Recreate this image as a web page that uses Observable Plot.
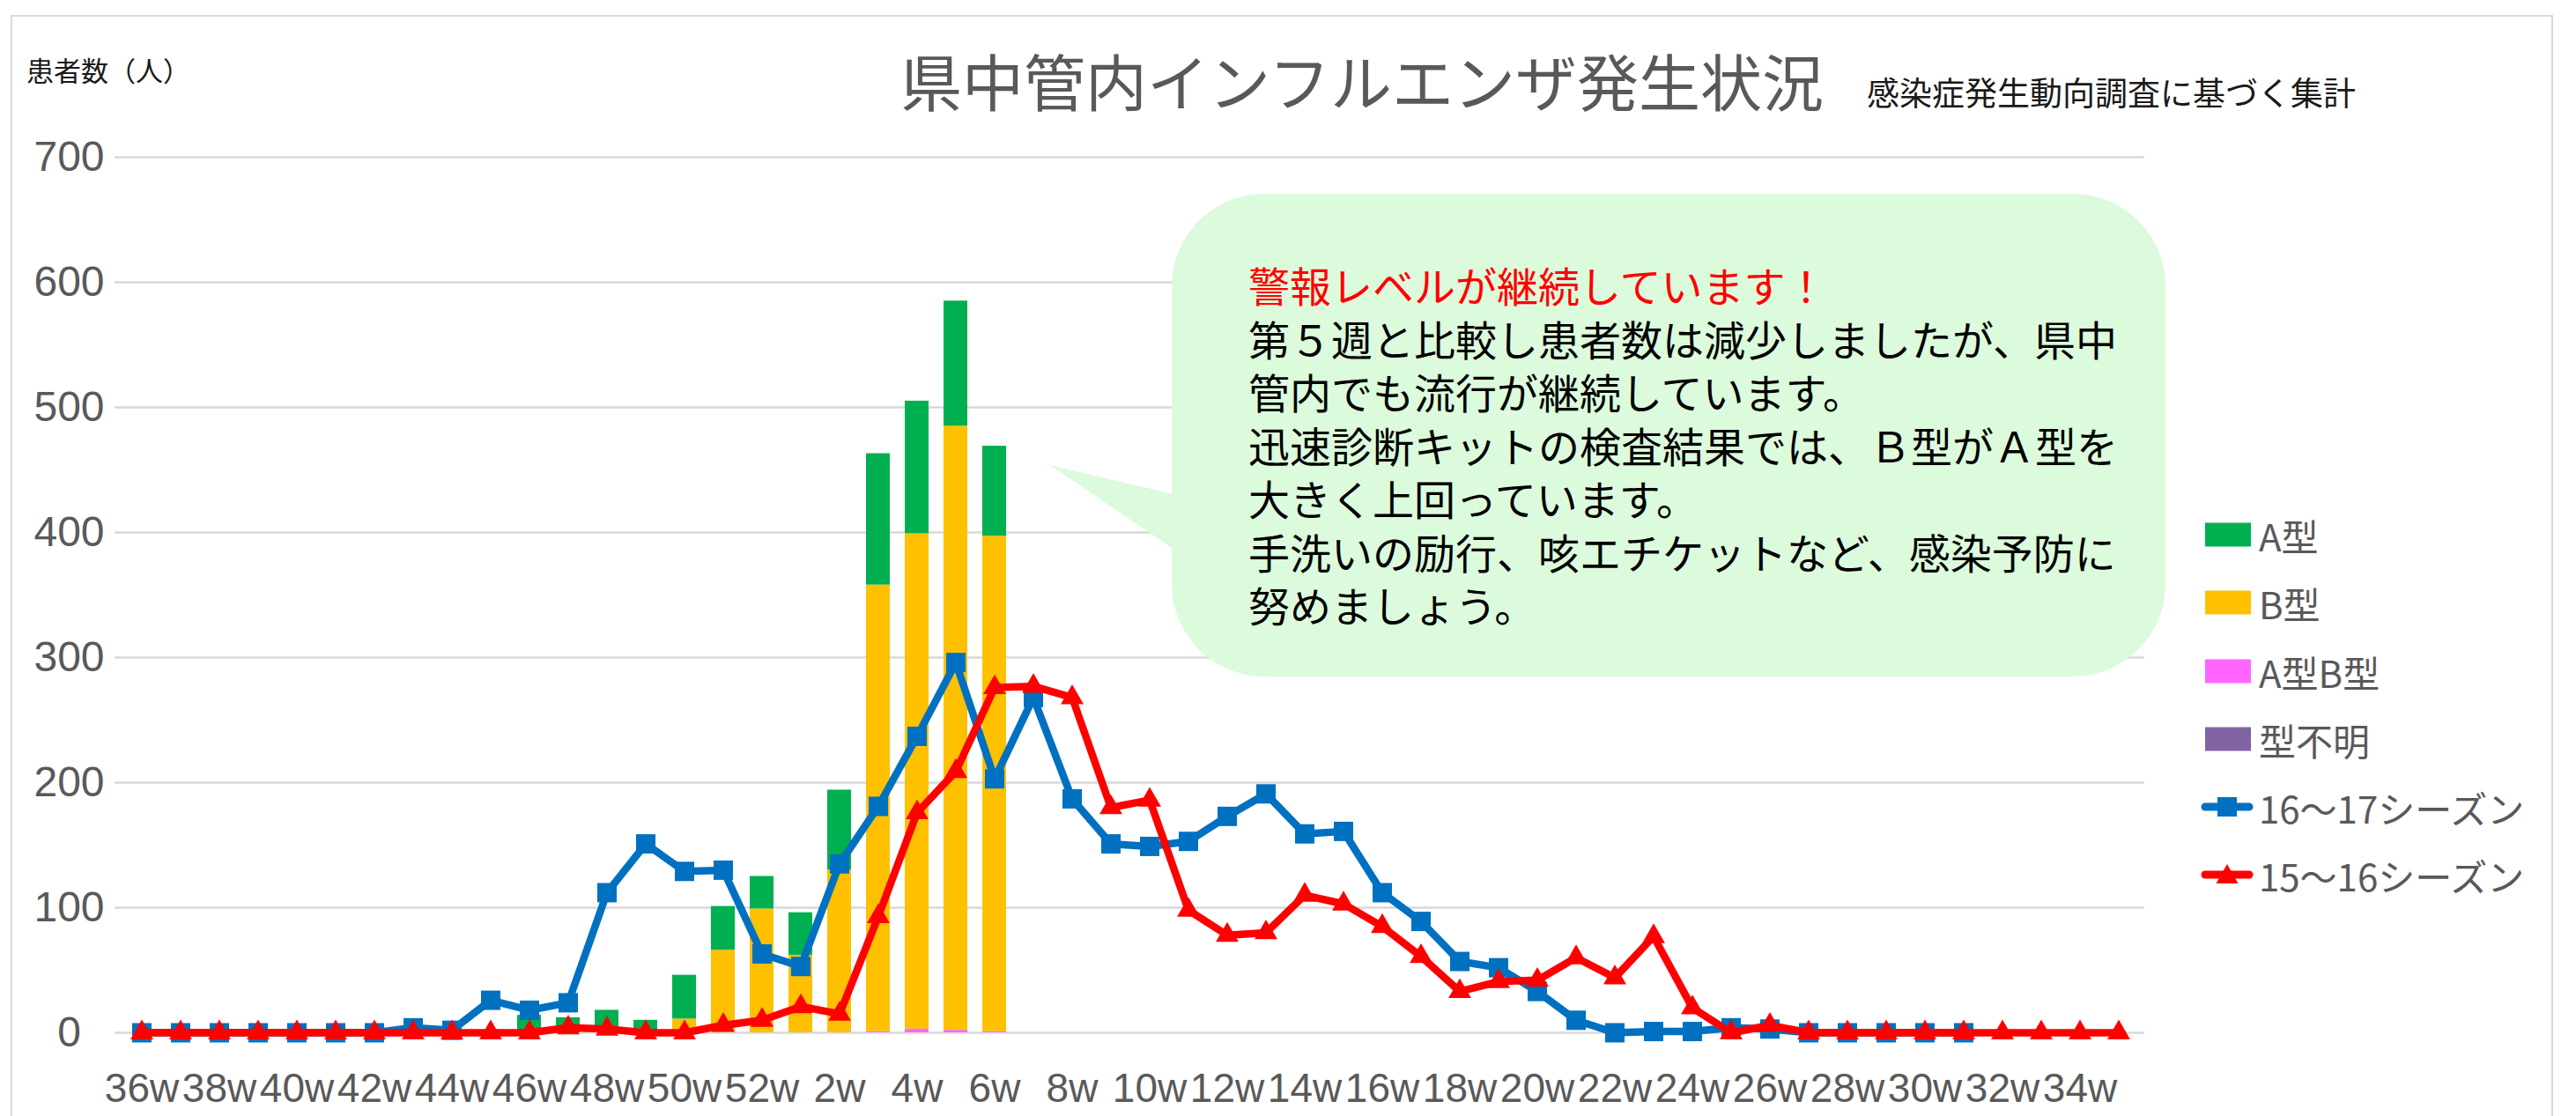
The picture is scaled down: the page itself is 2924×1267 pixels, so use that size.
<!DOCTYPE html>
<html><head><meta charset="utf-8">
<script src="https://cdn.jsdelivr.net/npm/d3@7"></script>
<script src="https://cdn.jsdelivr.net/npm/@observablehq/plot@0.6"></script>
<style>
body{margin:0;background:#fff;}
#wrap{position:relative;width:2924px;height:1267px;overflow:hidden;background:#fff;font-family:"Noto Sans CJK JP","Noto Sans",sans-serif;}
#frame{position:absolute;left:12px;top:17px;width:2886px;height:1300px;border:2px solid #d9d9d9;box-sizing:border-box;}
#chart{position:absolute;left:0;top:0;}
#title{position:absolute;left:1022px;top:56px;font-size:70px;line-height:1;color:#595959;white-space:nowrap;}
#subtitle{position:absolute;left:2119px;top:86px;font-size:37px;line-height:1;color:#1a1a1a;white-space:nowrap;}
#ylabel{position:absolute;left:30px;top:63px;font-size:31px;line-height:1;color:#1a1a1a;white-space:nowrap;}
#callout{position:absolute;left:0;top:0;}
#ctext{position:absolute;left:1417px;top:297px;font-family:"Liberation Sans","Noto Sans CJK JP",sans-serif;font-size:47px;line-height:60.5px;color:#000;white-space:nowrap;}
#ctext div{height:60.5px;}
#ctext .hd{color:#ff0000;}
.leg{position:absolute;left:2498px;height:50px;display:flex;align-items:center;font-size:42px;color:#595959;white-space:nowrap;}
.leg svg{margin-right:6px;}
</style></head><body>
<div id="wrap">
  <div id="frame"></div>
  <div id="chart"></div>
  <div id="title"></div>
  <div id="subtitle"></div>
  <div id="ylabel"></div>
  <div id="legend"></div>
  <svg id="callout" width="2924" height="1267"></svg>
  <div id="ctext"></div>
</div>
<script>
// ---- data ----
const weeks = ["36w","37w","38w","39w","40w","41w","42w","43w","44w","45w","46w","47w","48w","49w","50w","51w","52w",
  "1w","2w","3w","4w","5w","6w","7w","8w","9w","10w","11w","12w","13w","14w","15w","16w","17w","18w","19w","20w",
  "21w","22w","23w","24w","25w","26w","27w","28w","29w","30w","31w","32w","33w","34w","35w"];
const xTickLabels = ["36w","38w","40w","42w","44w","46w","48w","50w","52w","2w","4w","6w","8w","10w","12w","14w",
  "16w","18w","20w","22w","24w","26w","28w","30w","32w","34w"];
const yTicks = [0,100,200,300,400,500,600,700];

// bar series (36w .. 6w)
const typeA   = [0,0,0,0,0,0,0,0,0,0,14,12,18,10,35,35,26,34,64,105,106,100,72];
const typeB   = [0,0,0,0,0,0,0,0,0,0,0,0,0,0,11,66,99,62,130,357,396,483,396];
const typeAB  = [0,0,0,0,0,0,0,0,0,0,0,0,0,0,0,0,0,0,0,1,3,2,1];
const typeUnk = [0,0,0,0,0,0,0,0,0,0,0,0,0,0,0,0,0,0,0,0,0,0,0];

// line series
const season1617 = [0,0,0,0,0,0,0,4,2,26,18,24,112,151,129,130,63,
  53,135,181,237,296,203,268,187,151,149,153,173,191,159,161,112,89,57,52,33,10,0,1,1,4,3,0,0,0,0,0];
const season1516 = [0,0,0,0,0,0,0,0,0,0,0,4,3,0,0,6,10,
  21,15,93,176,209,276,277,268,180,186,98,78,80,110,103,85,61,33,41,42,60,44,77,20,0,6,0,0,0,0,0,0,0,0,0];

const typeNames = ["A型","B型","A型B型","型不明"];
const typeColors = ["#00b050","#ffc000","#ff66ff","#8064a2"];
const seriesNames = ["16～17シーズン","15～16シーズン"];
const seriesColors = ["#0070c0","#ff0000"];

const titleText = "県中管内インフルエンザ発生状況";
const subtitleText = "感染症発生動向調査に基づく集計";
const yLabelText = "患者数（人）";
const calloutLines = [
  "警報レベルが継続しています！",
  "第５週と比較し患者数は減少しましたが、県中",
  "管内でも流行が継続しています。",
  "迅速診断キットの検査結果では、Ｂ型がＡ型を",
  "大きく上回っています。",
  "手洗いの励行、咳エチケットなど、感染予防に",
  "努めましょう。"
];

// ---- tables built from arrays ----
const barData = [];
typeA.forEach((_, i) => {
  // stack order bottom -> top: 型不明, A型B型, B型, A型
  barData.push({week: weeks[i], type: "型不明", value: typeUnk[i]});
  barData.push({week: weeks[i], type: "A型B型", value: typeAB[i]});
  barData.push({week: weeks[i], type: "B型", value: typeB[i]});
  barData.push({week: weeks[i], type: "A型", value: typeA[i]});
});
const blueData = season1617.map((v, i) => ({week: weeks[i], value: v}));
const redData = season1516.map((v, i) => ({week: weeks[i], value: v}));

const axisFont = '"Liberation Sans Narrow","Liberation Sans",Arial,sans-serif';

const chart = Plot.plot({
  width: 2924,
  height: 1267,
  marginLeft: 130,
  marginRight: 490,
  marginTop: 178,
  marginBottom: 95,
  style: {background: "transparent", fontFamily: axisFont, fontSize: "46px", color: "#595959", overflow: "visible"},
  x: {type: "band", domain: weeks, paddingInner: 0.39, paddingOuter: 0.195, tickSize: 0, tickPadding: 46,
      tickFormat: d => xTickLabels.includes(d) ? d : "", label: null},
  y: {domain: [0, 700], axis: null},
  color: {domain: typeNames, range: typeColors},
  marks: [
    Plot.ruleY(yTicks, {stroke: "#d9d9d9", strokeWidth: 2.5}),
    Plot.text(yTicks, {y: d => d, text: d => String(d), frameAnchor: "left", dx: -52, textAnchor: "middle",
      fill: "#595959", fontSize: 48}),
    Plot.barY(barData, {x: "week", y: "value", fill: "type"}),
    Plot.line(blueData, {x: "week", y: "value", stroke: seriesColors[0], strokeWidth: 8.5, strokeLinejoin: "round", strokeLinecap: "round"}),
    Plot.dot(blueData, {x: "week", y: "value", symbol: "square", r: 12.4, fill: seriesColors[0], stroke: "none"}),
    Plot.line(redData, {x: "week", y: "value", stroke: seriesColors[1], strokeWidth: 8.5, strokeLinejoin: "round", strokeLinecap: "round"}),
    Plot.dot(redData, {x: "week", y: "value", symbol: "triangle", r: 9.6, fill: seriesColors[1], stroke: "none"})
  ]
});
document.getElementById("chart").appendChild(chart);

document.getElementById("title").textContent = titleText;
document.getElementById("subtitle").textContent = subtitleText;
document.getElementById("ylabel").textContent = yLabelText;

// legend
const legend = document.getElementById("legend");
const legCenters = [607, 684, 762, 839, 916, 993];
typeNames.forEach((name, i) => {
  const row = document.createElement("div");
  row.className = "leg";
  row.style.top = (legCenters[i] - 25) + "px";
  row.innerHTML = `<svg width="60" height="30"><rect x="5" y="1.5" width="52" height="27" fill="${typeColors[i]}"/></svg><span>${name}</span>`;
  legend.appendChild(row);
});
seriesNames.forEach((name, i) => {
  const row = document.createElement("div");
  row.className = "leg";
  row.style.top = (legCenters[4 + i] - 25) + "px";
  const sym = i === 0
    ? `<rect x="19" y="4" width="22" height="22" fill="${seriesColors[i]}"/>`
    : `<path d="M30,3 L42.5,25 L17.5,25 Z" fill="${seriesColors[i]}"/>`;
  row.innerHTML = `<svg width="60" height="30"><line x1="5" y1="15" x2="55" y2="15" stroke="${seriesColors[i]}" stroke-width="9" stroke-linecap="round"/>${sym}</svg><span>${name}</span>`;
  legend.appendChild(row);
});

// callout shape
const co = d3.select("#callout");
const bx = 1330, by = 220, bw = 1128, bh = 548, br = 105;
co.append("rect").attr("x", bx).attr("y", by).attr("width", bw).attr("height", bh)
  .attr("rx", br).attr("ry", br).attr("fill", "#dcfadc");
co.append("path").attr("d", `M1192,528 L${bx + 6},562 L${bx + 6},626 Z`).attr("fill", "#dcfadc");

const ct = document.getElementById("ctext");
calloutLines.forEach((t, i) => {
  const d = document.createElement("div");
  if (i === 0) d.className = "hd";
  d.textContent = t;
  ct.appendChild(d);
});
</script>
</body></html>
